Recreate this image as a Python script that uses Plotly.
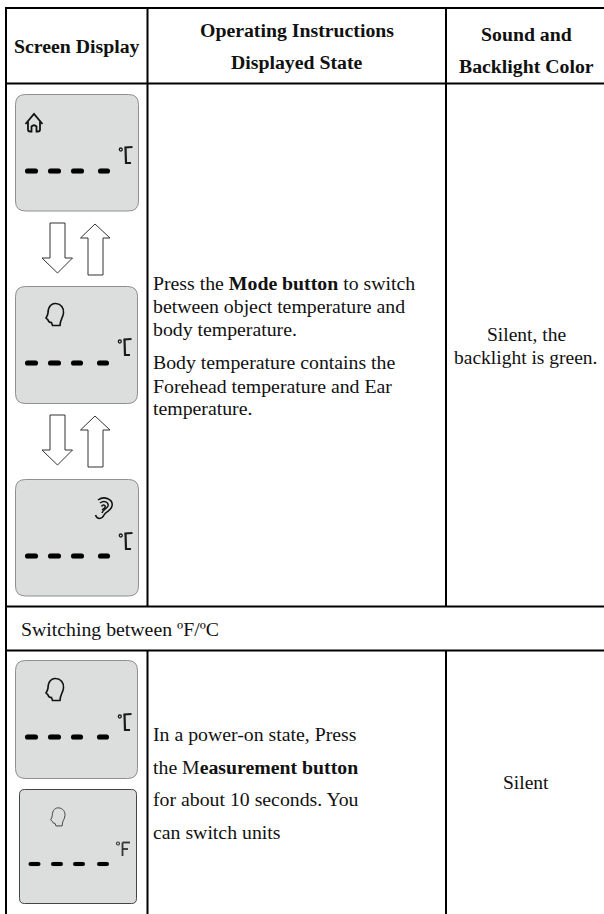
import plotly.graph_objects as go

# ---- content ----
HEADERS = [("Screen Display", 76.5, 46), ("Operating Instructions", 297, 30), ("Displayed State", 297, 62),
           ("Sound and", 526, 34), ("Backlight Color", 526, 66)]
LEFT_TEXT = [("Press the <b>Mode button</b> to switch", 283), ("between object temperature and", 306),
             ("body temperature.", 329), ("Body temperature contains the", 362),
             ("Forehead temperature and Ear", 386), ("temperature.", 408),
             ("In a power-on state, Press", 734), ("the M<b>easurement button</b>", 767),
             ("for about 10 seconds. You", 799), ("can switch units", 832)]
CENTER_TEXT = [("Silent, the", 334), ("backlight is green.", 357), ("Silent", 782)]
SECTION_TEXT = "Switching between ºF/ºC"

# ---- table geometry ----
H_RULES = [(6, 604, 8), (6, 604, 83.5), (6, 604, 606.5), (6, 604, 650.5)]
V_RULES = [(6, 8, 914), (147.5, 8, 606.5), (147.5, 650.5, 914), (446, 8, 606.5), (446, 650.5, 914)]

# x0, x1, y0, y1, edge colour, dash y, dash thickness, dash x-spans
SCREENS = [
    (15.5, 138.5, 94.5, 211, "#8f8f8f", 171, 5.2, [(25, 38), (48, 61), (71, 84), (98, 110)]),
    (15.5, 137.5, 286.5, 403.5, "#8f8f8f", 363, 5.2, [(25, 38), (48, 61), (71, 83), (97, 109)]),
    (15.5, 138.5, 479.5, 596, "#8f8f8f", 556, 5.2, [(25, 38), (48, 61), (71, 84), (98, 110)]),
    (15.5, 137.5, 660.5, 778.5, "#8f8f8f", 737, 5.2, [(25, 38), (48, 61), (71, 83), (97, 109)]),
    (19.5, 136.5, 789.5, 903.5, "#444444", 864, 4.2, [(28.5, 40.5), (51, 63), (73, 85), (97, 109)]),
]
ARROW_ROWS = [223, 415]  # top of down arrow shaft

HOME = ["M25.5,124 L34,114 L42.5,124", "M28,121.5 L28,129.5 Q28,131.5 30,131.5 L31.5,131.5 L31.5,126.5 Q34,124 36.5,126.5 L36.5,131.5 L38,131.5 Q40,131.5 40,129.5 L40,121.5"]
HEAD = ["M48,313 C48,306 52,303 56,303.5 C61,304 64,308 63.5,313 C63,318 60,319.5 60,325.5 L52.5,325.5 L51.5,322.5 Q48.5,322.5 48,320 L46,318 Q47.5,316 48,313 Z"]
EAR = ["M98,500 C104,495.5 113.5,499 112,506 C111,511 106,511 104,515 C102,519.5 97,519.5 95.5,515",
       "M100,503 C104,500 109,502 108,506 C107,509 103,509 102,513",
       "M101.5,506.5 C103,504 106,505 105,507.5 L102,510"]
UNIT_C = ["M124.5,147.5 L132.5,147", "M125.5,147.5 L126,163 L131,163"]
UNIT_F = ["M122.5,842.5 L122.5,856", "M122.5,842.5 L130,842.5", "M122.5,849 L128,849"]

INK = "#000000"
shapes = []


def shift(path, dx=0.0, dy=0.0, scale=1.0, ox=0.0, oy=0.0):
    tokens = path.replace(",", " ").split()
    res = []
    is_x = True
    for t in tokens:
        cmd = ""
        if t[0].isalpha():
            cmd, t = t[0], t[1:]
            is_x = True
        if t:
            v = float(t)
            v = (v - ox) * scale + ox + dx if is_x else (v - oy) * scale + oy + dy
            t = f"{v:.2f}"
            is_x = not is_x
        res.append(cmd + t)
    return " ".join(res)


def stroke(path, width=1.5, color="#111111", fill=None):
    shapes.append(dict(type="path", path=path, xref="x", yref="y", layer="above",
                       line=dict(color=color, width=width), fillcolor=fill or "rgba(0,0,0,0)"))


def round_rect(x0, x1, y0, y1, r):
    return (f"M{x0+r},{y0} L{x1-r},{y0} Q{x1},{y0} {x1},{y0+r} L{x1},{y1-r} Q{x1},{y1} {x1-r},{y1} "
            f"L{x0+r},{y1} Q{x0},{y1} {x0},{y1-r} L{x0},{y0+r} Q{x0},{y0} {x0+r},{y0} Z")


for x0, x1, y0, y1, edge, dy, th, spans in SCREENS:
    stroke(round_rect(x0, x1, y0, y1, 10 if edge != "#444444" else 5), 1, edge, "#dcdddd")
    for a, b in spans:
        stroke(round_rect(a, b, dy - th / 2, dy + th / 2, th / 2), 0.1, "#000000", "#000000")

for top in ARROW_ROWS:
    stroke(f"M50,{top} L65,{top} L65,{top+35} L72.5,{top+35} L57.5,{top+50} L42,{top+35} L50,{top+35} Z", 1, "#333333", "#ffffff")
    stroke(f"M95,{top+1} L110,{top+15} L103,{top+15} L103,{top+52} L88,{top+52} L88,{top+15} L80.5,{top+15} Z", 1, "#333333", "#ffffff")

# icons
for p in HOME:
    stroke(p, 1.8)
for p in HEAD:
    stroke(p, 1.6)
    stroke(shift(p, dy=375), 1.6)
    stroke(shift(p, dx=3, dy=502.5, scale=0.82, ox=55, oy=314), 1, "#444444")
for p in EAR:
    stroke(p, 1.5)
for dx, dy in [(0, 0), (-1, 192), (0, 386), (-1, 567)]:
    for p in UNIT_C:
        stroke(shift(p, dx, dy), 2.2, "#1a1a1a")
    shapes.append(dict(type="circle", x0=119.3 + dx, x1=122.3 + dx, y0=148 + dy, y1=151 + dy,
                       line=dict(color="#1a1a1a", width=1.3), fillcolor="rgba(0,0,0,0)", layer="above"))
for p in UNIT_F:
    stroke(p, 1.8, "#333333")
shapes.append(dict(type="circle", x0=116.5, x1=119.5, y0=842, y1=845,
                   line=dict(color="#333333", width=1.1), fillcolor="rgba(0,0,0,0)", layer="above"))

# rules
for a, b, y in H_RULES:
    shapes.append(dict(type="line", x0=a - 1, x1=b, y0=y, y1=y, line=dict(color=INK, width=2), layer="above"))
for x, a, b in V_RULES:
    shapes.append(dict(type="line", x0=x, x1=x, y0=a, y1=b, line=dict(color=INK, width=2), layer="above"))

SERIF = "Liberation Serif"
ann = []


def label(text, x, y, size, anchor="center", bold=False):
    ann.append(dict(text=f"<b>{text}</b>" if bold else text, x=x, y=y, xref="x", yref="y", xanchor=anchor,
                    yanchor="middle", showarrow=False, align=anchor,
                    font=dict(family=SERIF, size=size, color="#111111")))


for t, x, y in HEADERS:
    label(t, x, y, 19.8, bold=True)
for t, y in LEFT_TEXT:
    label(t, 150.5, y, 19.8, anchor="left")
for t, y in CENTER_TEXT:
    label(t, 526, y, 19.5)
label(SECTION_TEXT, 19, 629, 19.8, anchor="left")

fig = go.Figure()
fig.update_layout(
    width=604, height=914, autosize=False, margin=dict(l=0, r=0, t=0, b=0),
    paper_bgcolor="white", plot_bgcolor="white", showlegend=False,
    xaxis=dict(range=[0, 604], visible=False, fixedrange=True),
    yaxis=dict(range=[914, 0], visible=False, fixedrange=True),
    shapes=shapes, annotations=ann,
)
fig.write_html("out.html", config=dict(displayModeBar=False),
               post_script="document.body.style.margin='0';document.documentElement.style.overflow='hidden';")
